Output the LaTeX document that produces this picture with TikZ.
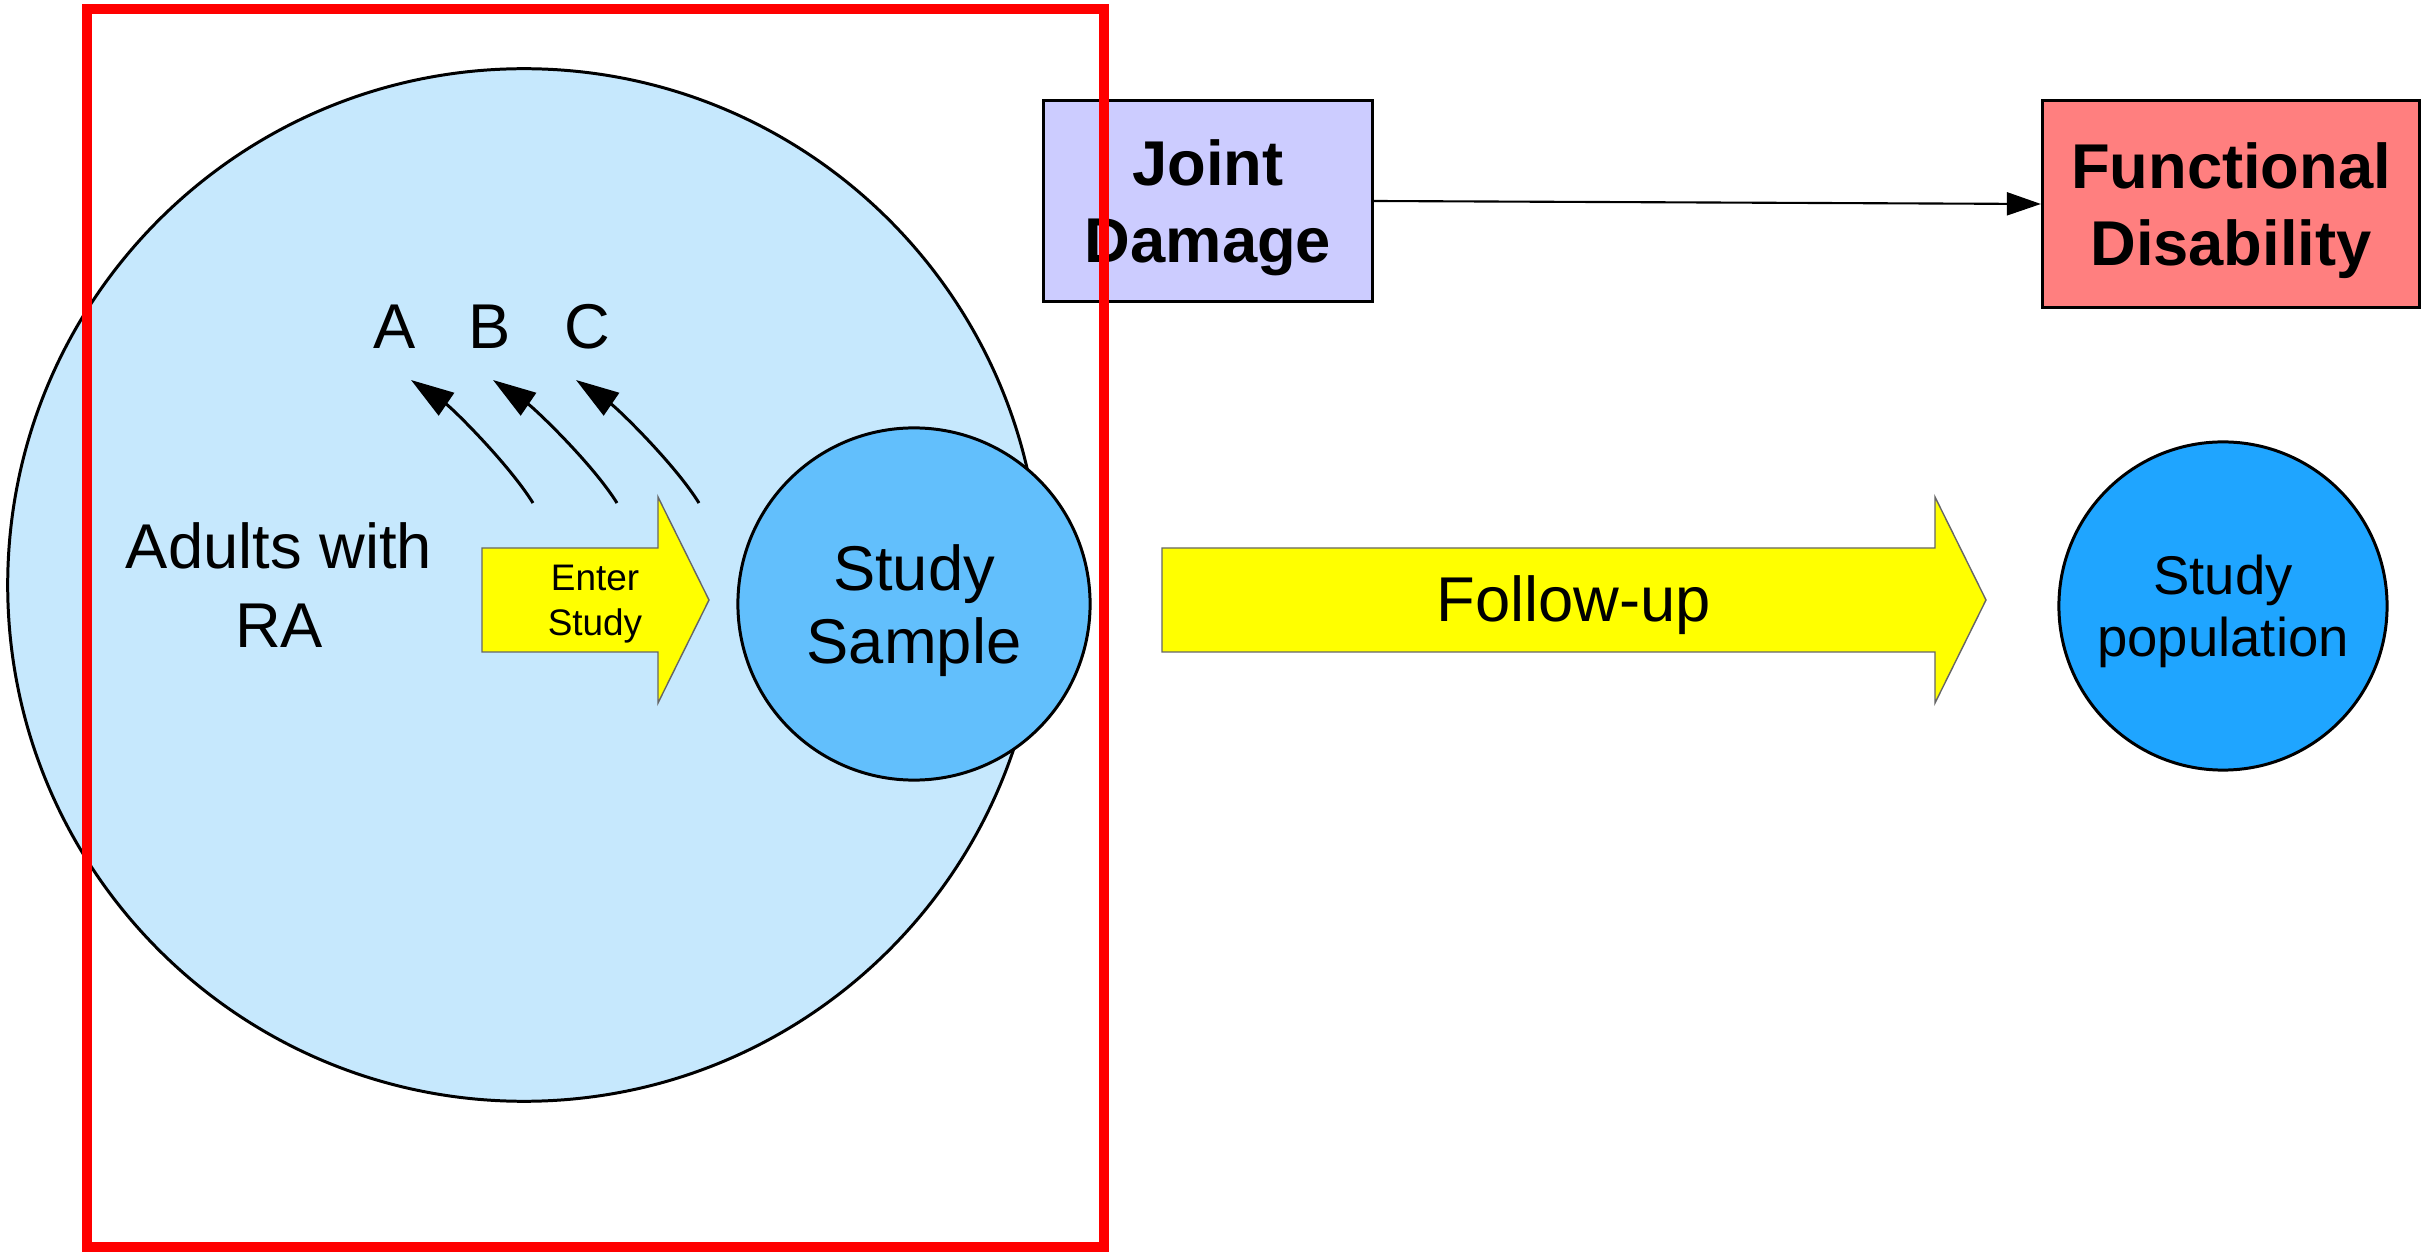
\documentclass[tikz,border=0pt]{standalone}
\usepackage{fontspec}
\setmainfont{Liberation Sans}
\usetikzlibrary{arrows.meta, positioning}
\definecolor{popblue}{HTML}{C6E8FD}
\definecolor{sampleblue}{HTML}{62BFFC}
\definecolor{studyblue}{HTML}{1FA5FF}
\definecolor{damagelilac}{HTML}{CCCCFF}
\definecolor{disabred}{HTML}{FF7F7F}
\definecolor{arrowyellow}{RGB}{255,255,0}

\begin{document}
\begin{tikzpicture}[
      x=0.01cm, y=-0.01cm,
      circ/.style={circle, draw, line width=0.85pt, inner sep=0pt, align=center, text depth=0pt},
      box/.style={rectangle, draw, line width=0.85pt, align=center, text depth=0pt,
                  font=\bfseries\fontsize{18}{22}\selectfont},
      lbl/.style={font=\fontsize{18}{22.5}\selectfont, align=center},
      fat/.style={fill=arrowyellow, draw=black!60, line width=0.4pt},
      arr/.style={-{Triangle[length=0.43cm, width=0.27cm]}, line width=0.85pt},
      link/.style={-{Triangle[length=0.34cm, width=0.23cm]}, line width=0.6pt},
      frame/.style={draw=red, line width=2.6pt}
    ]
    \useasboundingbox (0,0) rectangle (2429,1255);
    % source population
    \node[circ, fill=popblue, minimum size=10.32cm] (pop) at (524,585) {};
    \node[lbl] (adults) at (279,585) {Adults with\\RA};
    \node[circ, fill=sampleblue, minimum size=3.52cm,
          font=\fontsize{18}{21}\selectfont] (sample) at (914,604) {Study\\Sample};
    % entering the study
    \draw[fat] (482,548) -- (658,548) -- (658,497) -- (709,600)
               -- (658,703) -- (658,652) -- (482,652) -- cycle;
    \node[font=\fontsize{10.5}{12.8}\selectfont, align=center, text depth=0pt] (enter) at (595,600) {Enter\\Study};
    % subgroups
    \node[lbl, anchor=base] (grpA) at (395,349) {A};
    \node[lbl, anchor=base] (grpB) at (490,349) {B};
    \node[lbl, anchor=base] (grpC) at (587,349) {C};
    \coordinate (a0) at (533,503); \coordinate (a1) at (411,380);
    \coordinate (b0) at (617,503); \coordinate (b1) at (493,380);
    \coordinate (c0) at (699,503); \coordinate (c1) at (576,380);
    \draw[arr] (a0) .. controls +(-25,-40) and +(41,28) .. (a1);
    \draw[arr] (b0) .. controls +(-25,-40) and +(41,28) .. (b1);
    \draw[arr] (c0) .. controls +(-25,-40) and +(41,28) .. (c1);
    % follow-up
    \draw[fat] (1162,548) -- (1935,548) -- (1935,497) -- (1986,600)
               -- (1935,703) -- (1935,652) -- (1162,652) -- cycle;
    \node[lbl, anchor=base] (follow) at (1574,622) {Follow-up};
    \node[circ, fill=studyblue, minimum size=3.28cm,
          font=\fontsize{15.5}{17.6}\selectfont] (study) at (2223,606) {Study\\population};
    % exposure and outcome
    \node[box, fill=damagelilac, minimum width=3.29cm, minimum height=2.01cm] (jd) at (1208,201) {Joint\\Damage};
    \node[box, fill=disabred, minimum width=3.77cm, minimum height=2.06cm] (fd) at (2231,204) {Functional\\Disability};
    \draw[link] (jd.east) -- (fd.west);
    % frame
    \draw[frame] (87,9) rectangle (1104,1247);
  \end{tikzpicture}
\end{document}
